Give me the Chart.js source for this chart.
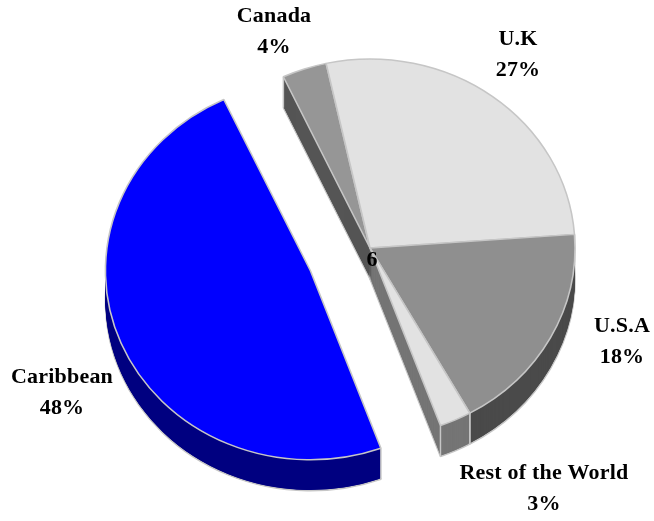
<!DOCTYPE html>
<html>
<head>
<meta charset="utf-8">
<style>
  html, body { margin: 0; background: #fff; }
  canvas { display: block; }
</style>
<script src="https://cdn.jsdelivr.net/npm/chart.js@4"></script>
</head>
<body>
<canvas id="pie" width="654" height="521"></canvas>
<script>
const categories = ['Canada', 'U.K', 'U.S.A', 'Rest of the World', 'Caribbean'];
const shares = [3.5, 27.2, 18, 2.5, 48.49];
const percentLabels = ['4%', '27%', '18%', '3%', '48%'];

const topColors = ['#969696', '#e2e2e2', '#8f8f8f', '#e2e2e2', '#0000ff'];
const wallColors = ['#555555', '#777777', '#4a4a4a', '#757575', '#000080'];
const edgeColor = '#c6c6c6';

const DEPTH = 31;
const SQUASH = 189 / 205;
const PULL_OUT = [0, 0, 0, 0, 64.5];
// back slices first so the near walls land on top
const wallOrder = [1, 2, 0, 3, 4];

// where each caption sits on the page, same order as categories
const captionSpots = [[274, 16], [518, 39], [622, 326], [544, 473], [62, 377]];

const tilt = (ctx, chart) => {
  const first = chart.getDatasetMeta(0).data[0];
  ctx.translate(first.x, first.y);
  ctx.scale(1, SQUASH);
  ctx.translate(-first.x, -first.y);
};

const pie3d = {
  id: 'pie3d',
  afterDatasetsUpdate(chart) {
    chart.getDatasetMeta(0).data.forEach((arc, i) => {
      const mid = (arc.startAngle + arc.endAngle) / 2;
      arc.x += Math.cos(mid) * PULL_OUT[i];
      arc.y += Math.sin(mid) * PULL_OUT[i];
    });
  },
  beforeDatasetsDraw(chart) {
    const { ctx } = chart;
    const arcs = chart.getDatasetMeta(0).data;
    const cy = arcs[0].y;

    wallOrder.forEach((i) => {
      const arc = arcs[i];
      const own = arc.options;
      // bottom layer keeps the outline, the rest only fill
      for (let d = DEPTH; d >= 1; d--) {
        arc.options = {
          ...own,
          backgroundColor: wallColors[i],
          borderColor: d === DEPTH ? edgeColor : wallColors[i],
          borderWidth: d === DEPTH ? own.borderWidth : 0,
        };
        ctx.save();
        ctx.translate(0, d);
        tilt(ctx, chart);
        arc.draw(ctx);
        ctx.restore();
      }
      arc.options = own;

      // vertical edges at the rim
      [arc.startAngle, arc.endAngle].forEach((a) => {
        const x = arc.x + Math.cos(a) * arc.outerRadius;
        const y = cy + (arc.y - cy + Math.sin(a) * arc.outerRadius) * SQUASH;
        ctx.beginPath();
        ctx.moveTo(x, y);
        ctx.lineTo(x, y + DEPTH);
        ctx.strokeStyle = edgeColor;
        ctx.lineWidth = 1.5;
        ctx.stroke();
      });
    });

    ctx.save();
    tilt(ctx, chart);
  },
  afterDatasetsDraw(chart) {
    chart.ctx.restore();
  },
  afterDraw(chart) {
    const { ctx } = chart;
    ctx.save();
    ctx.fillStyle = '#000';
    ctx.font = 'bold 22px "Liberation Serif"';
    ctx.letterSpacing = '0.2px';
    ctx.textAlign = 'center';
    ctx.textBaseline = 'middle';
    categories.forEach((name, i) => {
      const [x, y] = captionSpots[i];
      ctx.fillText(name, x, y);
      ctx.fillText(percentLabels[i], x, y + 31);
    });
    ctx.fillText('6', 372, 260);
    ctx.restore();
  },
};

new Chart(document.getElementById('pie').getContext('2d'), {
  type: 'pie',
  data: {
    labels: categories,
    datasets: [{
      data: shares,
      backgroundColor: topColors,
      borderColor: edgeColor,
      borderWidth: 1.6,
      radius: 205,
      clip: false,
    }],
  },
  options: {
    responsive: false,
    animation: false,
    rotation: -25,
    layout: { padding: { left: 86, bottom: 25 } },
    plugins: { legend: { display: false }, tooltip: { enabled: false } },
  },
  plugins: [pie3d],
});
</script>
</body>
</html>
